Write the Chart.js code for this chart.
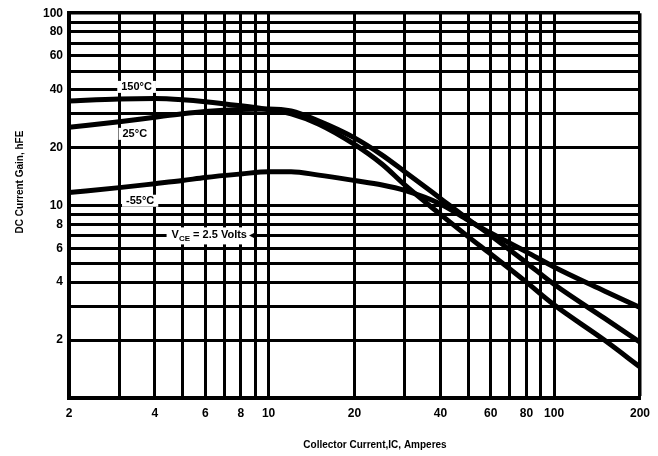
<!DOCTYPE html>
<html>
<head>
<meta charset="utf-8">
<script src="https://cdn.jsdelivr.net/npm/chart.js@4.4.1/dist/chart.umd.min.js"></script>
<style>
  html, body { margin: 0; padding: 0; background: #fff; }
  #wrap { width: 658px; height: 456px; }
</style>
</head>
<body>
<div id="wrap"><canvas id="gain-chart" width="658" height="456"></canvas></div>
<script>
const currentA = [2, 3, 4, 5, 6, 8, 10, 12, 15, 20, 25, 30, 40, 50, 60, 80, 100, 150, 200];

// DC current gain at each current, one list per case temperature
const gain150 = [35, 35.8, 36, 35.5, 34.7, 33, 31.5, 30, 26.5, 20.8, 16.4, 12.8, 9.0, 6.9, 5.6, 4.0, 3.05, 2.0, 1.45];
const gain25 = [25.5, 27.3, 28.8, 30, 30.8, 31.6, 31.8, 31, 27.5, 22.5, 18.3, 15.0, 10.9, 8.5, 7.0, 5.05, 3.9, 2.6, 1.95];
const gainMinus55 = [11.7, 12.4, 13.0, 13.5, 14.0, 14.6, 15.0, 15.0, 14.4, 13.5, 12.8, 12.0, 10.2, 8.4, 7.2, 5.75, 4.8, 3.6, 2.95];

// grid lines and the ones that carry a label
const xGrid = [2, 3, 4, 5, 6, 7, 8, 9, 10, 20, 30, 40, 50, 60, 70, 80, 90, 100, 200];
const xLabels = [2, 4, 6, 8, 10, 20, 40, 60, 80, 100, 200];
const yGrid = [1, 2, 3, 4, 5, 6, 7, 8, 9, 10, 20, 30, 40, 50, 60, 70, 80, 90, 100];
const yLabels = [2, 4, 6, 8, 10, 20, 40, 60, 80, 100];

// curve names, anchored in data units
const curveNotes = [
  { text: "150\u00B0C", x: 3.45, y: 41.4 },
  { text: "25\u00B0C", x: 3.4, y: 23.6 },
  { text: "-55\u00B0C", x: 3.55, y: 10.6 },
];
const vceNote = { x: 6.2, y: 7.0 };

const FONT = '"Liberation Sans", Arial, sans-serif';

const toPoints = (ys) => currentA.map((x, i) => ({ x, y: ys[i] }));

const curve = (label, ys) => ({
  label,
  data: toPoints(ys),
  borderColor: "#000",
  borderWidth: 5,
  pointRadius: 0,
  fill: false,
  cubicInterpolationMode: "monotone",
});

// draws the curve names, the Vce note and both axis titles
const overlay = {
  id: "overlay",
  afterDatasetsDraw(chart) {
    const { ctx, scales } = chart;
    const xs = scales.x, ys = scales.y;
    ctx.save();
    ctx.textBaseline = "middle";
    ctx.textAlign = "center";
    ctx.font = "bold 11px " + FONT;
    for (const n of curveNotes) {
      const px = xs.getPixelForValue(n.x);
      const py = ys.getPixelForValue(n.y);
      const w = ctx.measureText(n.text).width;
      ctx.fillStyle = "#fff";
      ctx.fillRect(px - w / 2 - 4, py - 6, w + 8, 12);
      ctx.fillStyle = "#000";
      ctx.fillText(n.text, px, py);
    }

    // V_CE = 2.5 Volts, with the small arrow at its right end
    const vx = xs.getPixelForValue(vceNote.x);
    const vy = ys.getPixelForValue(vceNote.y);
    const big = "bold 11px " + FONT, small = "bold 8px " + FONT;
    ctx.font = big;
    const wV = ctx.measureText("V").width;
    const wRest = ctx.measureText(" = 2.5 Volts").width;
    ctx.font = small;
    const wCE = ctx.measureText("CE").width;
    const total = wV + wCE + wRest;
    const left = vx - total / 2;
    ctx.fillStyle = "#fff";
    ctx.fillRect(left - 5, vy - 8, total + 10, 17);
    ctx.fillStyle = "#000";
    ctx.textAlign = "left";
    ctx.font = big;
    ctx.fillText("V", left, vy);
    ctx.font = small;
    ctx.fillText("CE", left + wV, vy + 3);
    ctx.font = big;
    ctx.fillText(" = 2.5 Volts", left + wV + wCE, vy);
    const ax = left + total + 2;
    ctx.beginPath();
    ctx.moveTo(ax, vy);
    ctx.lineTo(ax + 6, vy - 3);
    ctx.lineTo(ax + 6, vy + 3);
    ctx.closePath();
    ctx.fill();

    // axis titles
    ctx.font = "bold 10px " + FONT;
    ctx.textAlign = "center";
    ctx.fillText("Collector Current,IC, Amperes", 375, 445);
    ctx.translate(20, 182);
    ctx.rotate(-Math.PI / 2);
    ctx.fillText("DC Current Gain, hFE", 0, 0);
    ctx.restore();
  },
};

const edgeWidth = (ctx, edge) => (ctx.tick && ctx.tick.value === edge ? 3.5 : 3);

new Chart(document.getElementById("gain-chart"), {
  type: "line",
  data: {
    datasets: [
      curve("150\u00B0C", gain150),
      curve("25\u00B0C", gain25),
      curve("-55\u00B0C", gainMinus55),
    ],
  },
  options: {
    responsive: false,
    devicePixelRatio: 1,
    animation: false,
    layout: { padding: { top: 12, right: 15, left: 0, bottom: 0 } },
    plugins: {
      legend: { display: false },
      tooltip: { enabled: false },
    },
    scales: {
      x: {
        type: "logarithmic",
        min: 2,
        max: 200,
        afterBuildTicks: (axis) => {
          axis.ticks = xGrid.map((v) => ({ value: v }));
        },
        afterFit: (axis) => {
          axis.height = 58;
        },
        grid: { color: "#000", lineWidth: (c) => edgeWidth(c, 200), drawTicks: false },
        border: { color: "#000", width: 4 },
        ticks: {
          autoSkip: false,
          maxRotation: 0,
          padding: 8,
          color: "#000",
          font: { family: FONT, size: 12, weight: "bold" },
          callback: (v) => (xLabels.includes(v) ? String(v) : ""),
        },
      },
      y: {
        type: "logarithmic",
        min: 1,
        max: 100,
        afterBuildTicks: (axis) => {
          axis.ticks = yGrid.map((v) => ({ value: v }));
        },
        afterFit: (axis) => {
          axis.width = 69;
        },
        grid: { color: "#000", lineWidth: (c) => edgeWidth(c, 100), drawTicks: false },
        border: { color: "#000", width: 4 },
        ticks: {
          autoSkip: false,
          padding: 6,
          color: "#000",
          font: { family: FONT, size: 12, weight: "bold" },
          callback: (v) => (yLabels.includes(v) ? String(v) : ""),
        },
      },
    },
  },
  plugins: [overlay],
});
</script>
</body>
</html>
